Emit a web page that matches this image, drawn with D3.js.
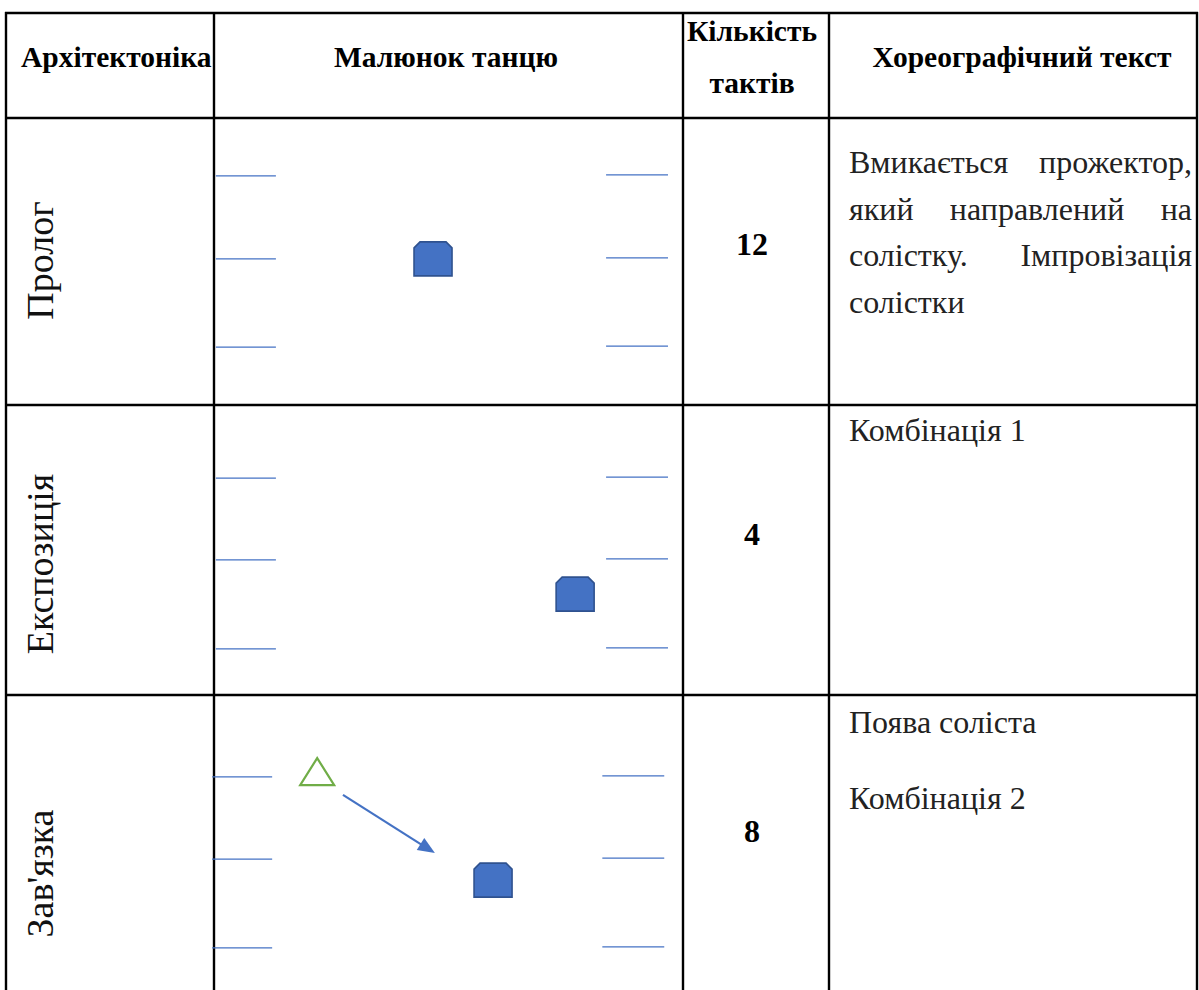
<!DOCTYPE html>
<html>
<head>
<meta charset="utf-8">
<script src="https://cdn.jsdelivr.net/npm/d3@7"></script>
<style>
  body { margin: 0; background: #fff; }
  svg { display: block; }
  .hdr { font-family: "Liberation Serif", "Times New Roman", serif; font-weight: bold; font-size: 29.5px; fill: #000; }
  .body { font-family: "Liberation Serif", "Times New Roman", serif; font-size: 32px; fill: #222; }
  .label { font-family: "Liberation Serif", "Times New Roman", serif; font-size: 38px; fill: #111; }
  .num { font-family: "Liberation Serif", "Times New Roman", serif; font-weight: bold; font-size: 32px; fill: #000; }
</style>
</head>
<body>
<svg id="chart" width="1199" height="990"></svg>
<script>
// table content
const headers = ['Архітектоніка', 'Малюнок танцю', ['Кількість', 'тактів'], 'Хореографічний текст'];
const sections = ['Пролог', 'Експозиція', "Зав'язка"];
const beats = [12, 4, 8];
const choreoText = [
    [['Вмикається прожектор,', true], ['який направлений на', true], ['солістку. Імпровізація', true], ['солістки', false]],
    [['Комбінація 1', false]],
    [['Поява соліста', false], ['Комбінація 2', false]]
];

// stage drawings, in stage units (0..100 across and down a cell)
const wingY = [[20.2, 49.1, 79.8], [25.2, 53.4, 84.1], [27.3, 54.7, 84.3]];
const wingShift = [0, 0, -0.8];
const wingLeft = [0.4, 13.2];
const wingRight = [83.6, 96.8];
const soloists = [[46.7, 49.1], [77.0, 65.2], [59.5, 61.7]];
const entrants = [null, null, [22.0, 25.7]];
const moves = [null, null, [[27.5, 33.3], [47.1, 52.7]]];

const svg = d3.select('#chart');

let colX = [6, 214, 683, 829, 1197];
let rowY = [13, 118, 405, 695, 995];

let blue = '#4472C4';
let blueDark = '#2F528F';
let green = '#70AD47';

// grid
let grid = svg.append('g');
grid.selectAll('.hline').data(rowY).enter().append('line')
    .attr('x1', colX[0] - 1).attr('x2', colX[4] + 1)
    .attr('y1', d => d).attr('y2', d => d)
    .style('stroke', '#000').style('stroke-width', 2.4);
grid.selectAll('.vline').data(colX).enter().append('line')
    .attr('x1', d => d).attr('x2', d => d)
    .attr('y1', rowY[0] - 1).attr('y2', rowY[4] + 1)
    .style('stroke', '#000').style('stroke-width', 2.4);

// header
let headX = [21, 446, 752, 1022];
let headAnchor = ['start', 'middle', 'middle', 'middle'];
headers.forEach((h, i) => {
    let lines = Array.isArray(h) ? h : [h];
    let t = svg.append('text').attr('class', 'hdr').attr('text-anchor', headAnchor[i]);
    lines.forEach((l, j) => {
        t.append('tspan').attr('x', headX[i])
            .attr('y', (lines.length > 1 ? 66.5 : 67) + (j - (lines.length - 1) / 2) * 52)
            .text(l);
    });
});

// rows
let labelY = [260.5, 564, 873.5];
let beatY = [255, 545, 842];
let textY = [[173, 220, 266, 313], [441], [733, 809]];

sections.forEach((name, r) => {
    let top = rowY[r + 1];
    let bottom = r == 2 ? top + 300 : rowY[r + 2];

    let x = d3.scaleLinear().domain([0, 100]).range([colX[1], colX[2]]);
    let y = d3.scaleLinear().domain([0, 100]).range([top, bottom]);

    // section name, rotated
    svg.append('text').attr('class', 'label')
        .attr('text-anchor', 'middle')
        .attr('transform', 'translate(53,' + labelY[r] + ') rotate(-90)')
        .text(name);

    // beats
    svg.append('text').attr('class', 'num')
        .attr('text-anchor', 'middle')
        .attr('x', 752)
        .attr('y', beatY[r])
        .text(beats[r]);

    // wings
    let g = svg.append('g');
    [wingLeft, wingRight].forEach((span, s) => {
        g.selectAll('.wing' + s).data(wingY[r]).enter().append('line')
            .attr('x1', x(span[0] + wingShift[r])).attr('x2', x(span[1] + wingShift[r]))
            .attr('y1', d => y(d) - s).attr('y2', d => y(d) - s)
            .style('stroke', blue).style('stroke-width', 1.2);
    });

    // soloist
    let p = soloists[r];
    let cx = x(p[0]), cy = y(p[1]);
    let w = 19, hh = 17, c = 6;
    g.append('path')
        .attr('d', 'M' + (cx - w + c) + ',' + (cy - hh) + ' L' + (cx + w - c) + ',' + (cy - hh) +
            ' L' + (cx + w) + ',' + (cy - hh + c) + ' L' + (cx + w) + ',' + (cy + hh) +
            ' L' + (cx - w) + ',' + (cy + hh) + ' L' + (cx - w) + ',' + (cy - hh + c) + ' Z')
        .style('fill', blue).style('stroke', blueDark).style('stroke-width', 1.6);

    // entering dancer
    if (entrants[r]) {
        let e = entrants[r];
        let ex = x(e[0]), ey = y(e[1]);
        g.append('path')
            .attr('d', 'M' + ex + ',' + (ey - 14) + ' L' + (ex + 17) + ',' + (ey + 13) + ' L' + (ex - 17) + ',' + (ey + 13) + ' Z')
            .style('fill', '#fff').style('stroke', green).style('stroke-width', 2.2);
    }

    // movement, with a filled arrow head
    if (moves[r]) {
        let m = moves[r];
        let x1 = x(m[0][0]), y1 = y(m[0][1]);
        let x2 = x(m[1][0]), y2 = y(m[1][1]);
        let len = Math.hypot(x2 - x1, y2 - y1);
        let ux = (x2 - x1) / len, uy = (y2 - y1) / len;
        let headLen = 17, headW = 7;
        let bx = x2 - ux * headLen, by = y2 - uy * headLen;
        g.append('line')
            .attr('x1', x1).attr('y1', y1)
            .attr('x2', bx + ux * 2).attr('y2', by + uy * 2)
            .style('stroke', blue).style('stroke-width', 2.2);
        g.append('path')
            .attr('d', 'M' + x2 + ',' + y2 +
                ' L' + (bx - uy * headW) + ',' + (by + ux * headW) +
                ' L' + (bx + uy * headW) + ',' + (by - ux * headW) + ' Z')
            .style('fill', blue);
    }

    // choreographic text, justified lines
    let left = 849, right = 1192;
    choreoText[r].forEach((ln, j) => {
        if (!ln[1]) {
            svg.append('text').attr('class', 'body')
                .attr('x', left).attr('y', textY[r][j])
                .text(ln[0]);
            return;
        }
        let words = ln[0].split(' ');
        let texts = svg.selectAll('.w' + r + '_' + j).data(words).enter().append('text')
            .attr('class', 'body w' + r + '_' + j)
            .attr('y', textY[r][j])
            .text(d => d);
        let widths = [];
        texts.each(function () { widths.push(this.getComputedTextLength()); });
        let gap = (right - left - d3.sum(widths)) / (words.length - 1);
        let pos = left;
        texts.each(function (d, i) {
            d3.select(this).attr('x', pos);
            pos += widths[i] + gap;
        });
    });
});
</script>
</body>
</html>
